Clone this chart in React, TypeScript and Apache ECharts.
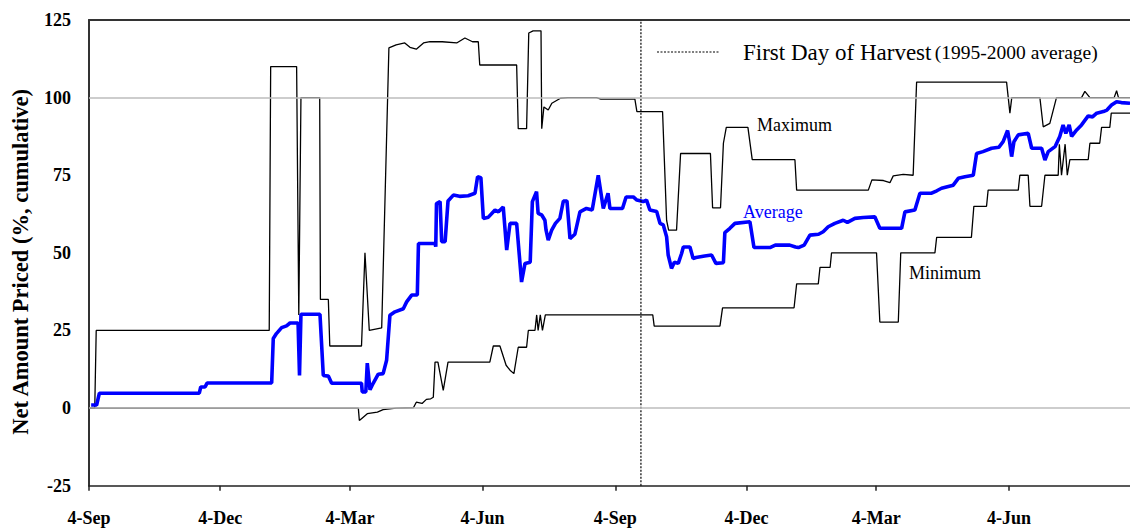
import React, { useEffect, useRef } from "react";
import * as echarts from "echarts";

// x = days since 4-Sep (first year)
const tickDays = [0, 91, 181, 273, 365, 456, 546, 638];
const tickLabels = ["4-Sep", "4-Dec", "4-Mar", "4-Jun", "4-Sep", "4-Dec", "4-Mar", "4-Jun"];
const xMax = 722;
const yMin = -25;
const yMax = 125;
const yStep = 25;
const gridValues = [0, 100];
const harvestDay = 382.8;

const maxData: [number, number][] = [
  [0, 0], [4, 0], [5, 25], [125, 25], [126, 110], [144, 110], [145.5, 30], [147, 100], [160, 100],
  [160.5, 35], [166, 35], [167, 20], [189, 20], [191.4, 50], [194.4, 25], [203, 25.8], [208, 116],
  [213, 117], [219, 117.6], [222.6, 116.2], [227, 115.6], [232, 117.6], [236.5, 118], [245, 118],
  [255, 117.6], [260.7, 119.2], [266, 118], [270, 118], [271, 110.5], [296.6, 110.5], [297.7, 90],
  [303.5, 90], [305, 120.8], [308, 121.5], [313.5, 121.5], [314, 90], [315.5, 97], [318.5, 96],
  [321, 98.2], [327, 99.8], [332, 100], [352, 100], [355, 99.5], [378.6, 99.5], [380, 95.5],
  [397.8, 95.5], [400.6, 60.5], [402, 57.3], [407.5, 57.3], [410.3, 82], [431, 82], [432.5, 64.5],
  [438, 64.5], [440, 85.3], [442, 90.4], [457, 90.4], [460, 80], [489.6, 80], [490.8, 70.2],
  [540.5, 70.2], [543, 73.5], [551, 73.3], [555.5, 72.6], [557.8, 74.8], [564.7, 75.3], [571.6, 75],
  [574, 105], [636.4, 105], [638.7, 95], [640, 100], [659.5, 100], [661.8, 90.6], [666.4, 91.7],
  [671, 100], [688.4, 100], [690.7, 102], [694.2, 100], [711, 100], [712.7, 102.2], [714, 100],
  [722, 100],
];

const minData: [number, number][] = [
  [0, 0], [186.8, 0], [187.5, -4], [190, -3], [193, -1.8], [200, -1.3], [204, -0.5], [213, 0],
  [225, 0.1], [227, 1.9], [231, 1.5], [234, 2.8], [237, 3], [238.8, 3.5], [240, 14.8], [242, 14.8],
  [245.7, 5.7], [249, 14.8], [278, 14.8], [280.4, 20], [285, 20], [289.3, 13.8], [292, 12.2],
  [294.7, 11.1], [297.7, 19.6], [303.5, 19.6], [304.7, 25], [309.3, 25], [310.5, 30], [311.5, 25],
  [313, 30], [314.5, 25], [316.5, 30], [391, 30], [392, 26.4], [437.6, 26.4], [439.4, 32.3],
  [489, 32.3], [490.8, 40], [505.8, 40], [507, 45.3], [514, 45.3], [515, 50], [546.2, 50],
  [548.5, 27.7], [561.3, 27.7], [563, 50], [586.7, 50], [587.9, 55], [612, 55], [613.7, 65],
  [622.5, 65], [623.6, 70.2], [644.5, 70.2], [645.6, 75], [651.4, 75], [652.6, 65], [660.7, 65],
  [663, 75], [672.2, 75], [673, 85], [674.5, 75], [677, 85], [678.5, 75], [680.3, 80], [693, 80],
  [694.2, 85.3], [701, 85.3], [702.3, 90.4], [708, 90.4], [709, 95], [722, 95],
];

const avgData: [number, number][] = [
  [1.5, 1], [5.3, 1], [7.2, 4.8], [76.5, 4.8], [77.5, 6.8], [80.5, 6.8], [82, 8.1], [126.7, 8.1],
  [127.8, 22.4], [130, 24], [133.6, 25.9], [137, 26.5], [139.4, 27.4], [145, 27.4], [146, 10.5],
  [147, 30.2], [160.2, 30.2], [162.5, 10.5], [166, 10.3], [168.3, 8], [189, 8], [189.5, 5.2],
  [192, 5.2], [193, 14.5], [194.9, 5.9], [197, 7.9], [200.6, 10.9], [204, 11.1], [206.4, 15.4],
  [208.7, 29.9], [212.2, 31], [218, 32], [220.3, 34.2], [223.8, 36.4], [227.7, 36.4], [228.5, 53],
  [240, 53], [240.5, 52], [241, 65.9], [243.5, 66.5], [244.6, 53.6], [247, 53.6], [249, 66.7],
  [252.7, 68.6], [257, 68.2], [263, 68.4], [267.7, 69.2], [269.5, 74.5], [271.8, 74.2], [273.5, 61.1],
  [277, 61.5], [281.6, 63.8], [284, 63.2], [287.3, 64.8], [289.7, 50.9], [292, 59.5], [296.6, 59.5],
  [300, 40.6], [302.4, 46.6], [306, 47], [307.5, 66.5], [310.4, 69.7], [311.5, 62.7], [314, 62.2],
  [316.2, 60.5], [317, 57.3], [318.5, 54.1], [320.9, 57.3], [323.5, 59.5], [326.6, 61.1], [329, 66.7],
  [331.5, 66.7], [333.6, 54.6], [337, 56], [340.5, 63.2], [345, 64.3], [349, 63.8], [353.2, 75],
  [356.7, 64.3], [360, 69.2], [361.3, 64.3], [370, 64.3], [372.5, 68], [377.5, 68], [380, 67],
  [384.4, 66.5], [386.7, 67], [389, 63.8], [393.7, 63.3], [396, 59.5], [398.3, 59], [400.6, 55.2],
  [401.7, 49.3], [404, 45], [406, 47], [408.7, 46.6], [411, 49.8], [412.2, 51.9], [416.8, 51.9],
  [419, 48.2], [421, 48.5], [427, 49], [431.8, 49.3], [434.8, 46.6], [440, 46.8], [441, 56.5],
  [444.5, 57.9], [448, 59.5], [458.4, 60], [461.2, 51.7], [472.3, 51.7], [476, 52.5], [486, 52.5],
  [490, 51.9], [492, 51.7], [496, 52.5], [500, 55.7], [506, 56], [509.2, 56.8], [512.7, 58.4],
  [517.3, 59.5], [523.1, 60.5], [526, 59.8], [531.2, 61.1], [537, 61.4], [545, 61.6], [548.5, 57.9],
  [563.6, 57.9], [565.9, 63.2], [572.8, 63.8], [576.3, 69.2], [584.4, 69.2], [588, 70], [591.3, 70.8],
  [599.4, 71.8], [602.9, 74], [607.5, 74.5], [613.3, 75], [615.6, 82], [620, 82.6], [626, 83.7],
  [631, 84], [634, 85.8], [637.1, 89.4], [638.5, 85.8], [639.9, 81], [641.5, 85.8], [644.5, 88],
  [651.4, 88.5], [653.8, 83.7], [660.7, 83.7], [663, 79.9], [665.3, 82.6], [670, 84.2], [673.3, 87.5],
  [675.6, 91.2], [677.5, 88.5], [679.8, 91.2], [681.5, 87.5], [685, 89.6], [688.4, 91.2], [693, 94.1],
  [696, 93.8], [698.9, 95], [703.5, 95.5], [706, 96], [709.2, 97.6], [712.7, 98.7], [716, 98.4],
  [722, 98.2],
];

const SERIF = '"Liberation Serif", "Times New Roman", serif';

export default function App() {
  const ref = useRef<HTMLDivElement>(null);
  useEffect(() => {
    if (!ref.current) return;
    const chart = echarts.init(ref.current, undefined, { renderer: "svg" });
    const labelOf = (v: number) => {
      const i = tickDays.indexOf(Math.round(v));
      return i >= 0 ? tickLabels[i] : "";
    };
    chart.setOption({
      animation: false,
      backgroundColor: "#ffffff",
      grid: { left: 89, right: 0, top: 20, bottom: 43.3, containLabel: false },
      xAxis: [
        {
          type: "value",
          min: 0,
          max: xMax,
          position: "bottom",
          axisLine: { show: true, onZero: false, lineStyle: { color: "#222", width: 1.5 } },
          axisTick: { show: true, customValues: tickDays, length: 5, inside: false, lineStyle: { color: "#222", width: 1.5 } },
          axisLabel: {
            show: true,
            customValues: tickDays,
            formatter: (v: number) => labelOf(v),
            margin: 23,
            color: "#000",
            fontFamily: SERIF,
            fontWeight: "bold",
            fontSize: 18,
          },
          splitLine: { show: false },
        },
        {
          type: "value",
          min: 0,
          max: xMax,
          position: "top",
          axisLine: { show: true, onZero: false, lineStyle: { color: "#333", width: 2 } },
          axisTick: { show: false },
          axisLabel: { show: false },
          splitLine: { show: false },
        },
      ],
      yAxis: {
        type: "value",
        min: yMin,
        max: yMax,
        interval: yStep,
        name: "Net Amount Priced (%, cumulative)",
        nameLocation: "middle",
        nameGap: 57,
        nameTextStyle: {
          fontFamily: SERIF,
          fontWeight: "bold",
          fontSize: 22.5,
          color: "#000",
          padding: [0, 18, 0, 0],
        },
        axisLine: { show: true, onZero: false, lineStyle: { color: "#333", width: 2 } },
        axisTick: { show: false },
        axisLabel: { color: "#000", fontFamily: SERIF, fontWeight: "bold", fontSize: 18, margin: 18 },
        splitLine: { show: false },
      },
      series: [
        {
          name: "gridlines",
          type: "line",
          data: [],
          z: 1,
          silent: true,
          markLine: {
            silent: true,
            symbol: ["none", "none"],
            label: { show: false },
            lineStyle: { color: "#bdbdbd", width: 1.5, type: "solid" },
            data: gridValues.map((v) => ({ yAxis: v })),
          },
        },
        {
          name: "Maximum",
          type: "line",
          data: maxData,
          showSymbol: false,
          symbol: "none",
          z: 2,
          lineStyle: { color: "#000", width: 1.3 },
        },
        {
          name: "Minimum",
          type: "line",
          data: minData,
          showSymbol: false,
          symbol: "none",
          z: 2,
          lineStyle: { color: "#000", width: 1.3 },
        },
        {
          name: "Average",
          type: "line",
          data: avgData,
          showSymbol: false,
          symbol: "none",
          z: 3,
          lineStyle: { color: "#0000ff", width: 3.6 },
        },
        {
          name: "First Day of Harvest",
          type: "line",
          data: [
            [harvestDay, yMin],
            [harvestDay, yMax],
          ],
          showSymbol: false,
          symbol: "none",
          z: 4,
          lineStyle: { color: "#000", width: 1.2, type: [2, 1.5] },
        },
      ],
      graphic: [
        {
          type: "line",
          shape: { x1: 657, y1: 52, x2: 719, y2: 52 },
          style: { stroke: "#000", lineWidth: 1.2, lineDash: [2, 1.5] },
        },
        {
          type: "text",
          x: 743,
          y: 52,
          style: {
            text: "{a|First Day of Harvest} {b|(1995-2000 average)}",
            verticalAlign: "middle",
            fill: "#000",
            rich: {
              a: { fontFamily: SERIF, fontSize: 23, fill: "#000" },
              b: { fontFamily: SERIF, fontSize: 19.5, fill: "#000" },
            },
          },
        },
        {
          type: "text",
          x: 757,
          y: 125,
          style: { text: "Maximum", fontFamily: SERIF, fontSize: 18, fill: "#000", verticalAlign: "middle" },
        },
        {
          type: "text",
          x: 743,
          y: 212,
          style: { text: "Average", fontFamily: SERIF, fontSize: 18, fill: "#0000ff", verticalAlign: "middle" },
        },
        {
          type: "text",
          x: 909,
          y: 273,
          style: { text: "Minimum", fontFamily: SERIF, fontSize: 18, fill: "#000", verticalAlign: "middle" },
        },
      ],
    });
    return () => chart.dispose();
  }, []);
  return (
    <div
      ref={ref}
      style={{ position: "absolute", left: 0, top: 0, width: 1130, height: 529, background: "#fff" }}
    />
  );
}
